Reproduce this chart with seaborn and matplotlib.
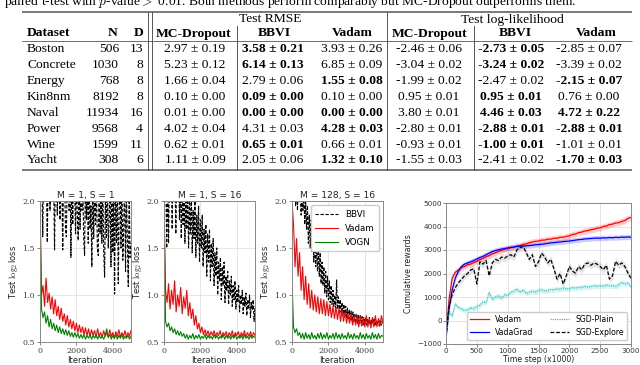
import numpy as np
import matplotlib
matplotlib.use("Agg")
import matplotlib.pyplot as plt
import seaborn as sns

plt.rcParams['mathtext.fontset'] = 'cm'

# ---------------- table data ----------------
datasets = ['Boston', 'Concrete', 'Energy', 'Kin8nm', 'Naval', 'Power', 'Wine', 'Yacht']
n_vals = [506, 1030, 768, 8192, 11934, 9568, 1599, 308]
d_vals = [13, 8, 8, 8, 16, 4, 11, 6]

rmse_mc = [2.97, 5.23, 1.66, 0.10, 0.01, 4.02, 0.62, 1.11]
rmse_mc_sd = [0.19, 0.12, 0.04, 0.00, 0.00, 0.04, 0.01, 0.09]
rmse_bbvi = [3.58, 6.14, 2.79, 0.09, 0.00, 4.31, 0.65, 2.05]
rmse_bbvi_sd = [0.21, 0.13, 0.06, 0.00, 0.00, 0.03, 0.01, 0.06]
rmse_vadam = [3.93, 6.85, 1.55, 0.10, 0.00, 4.28, 0.66, 1.32]
rmse_vadam_sd = [0.26, 0.09, 0.08, 0.00, 0.00, 0.03, 0.01, 0.10]

ll_mc = [-2.46, -3.04, -1.99, 0.95, 3.80, -2.80, -0.93, -1.55]
ll_mc_sd = [0.06, 0.02, 0.02, 0.01, 0.01, 0.01, 0.01, 0.03]
ll_bbvi = [-2.73, -3.24, -2.47, 0.95, 4.46, -2.88, -1.00, -2.41]
ll_bbvi_sd = [0.05, 0.02, 0.02, 0.01, 0.03, 0.01, 0.01, 0.02]
ll_vadam = [-2.85, -3.39, -2.15, 0.76, 4.72, -2.88, -1.01, -1.70]
ll_vadam_sd = [0.07, 0.02, 0.07, 0.00, 0.22, 0.01, 0.01, 0.03]

bold_rmse_bbvi = [1, 1, 0, 1, 1, 0, 1, 0]
bold_rmse_vadam = [0, 0, 1, 0, 1, 1, 0, 1]
bold_ll_bbvi = [1, 1, 0, 1, 1, 1, 1, 0]
bold_ll_vadam = [0, 0, 1, 0, 1, 1, 0, 1]

# ---------------- loss curves (x from 0 to 5000) ----------------
p1_bbvi = [2.5, 2.4, 2.3, 1.62, 2.4, 2.3, 2.4, 2.2, 1.56, 2.4, 2.3, 1.9, 2.4, 2.3, 2.4, 2.2, 1.48, 2.4, 2.3, 1.85,
           2.4, 2.3, 1.8, 2.4, 2.2, 1.48, 2.4, 2.3, 1.7, 1.62, 2.4, 2.2, 1.9, 2.4, 1.40, 2.3, 1.75, 2.4, 2.2, 1.65,
           2.3, 1.85, 1.58, 2.4, 1.7, 2.3, 1.9, 2.2, 1.6, 1.42, 2.3, 1.8, 2.2, 1.55, 2.3, 1.7, 1.95, 1.30, 2.3, 1.6,
           2.2, 1.75, 2.3, 1.5, 1.42, 2.3, 1.65, 2.2, 1.55, 2.3, 1.45, 1.19, 2.2, 1.6, 2.3, 1.5, 1.8, 2.2, 1.3, 2.3,
           1.45, 2.2, 1.01, 2.3, 1.55, 2.2, 1.12, 1.9, 2.3, 1.5, 2.2, 1.37, 1.7, 2.3, 1.25, 2.1, 1.6, 1.09, 2.2, 1.4,
           1.55]
p1_vadam = [2.0, 1.0, 1.1, 0.88, 1.18, 0.92, 1.02, 0.85, 0.98, 0.8, 0.95, 0.78, 0.88, 0.74, 0.86, 0.72, 0.8, 0.68,
            0.78, 0.66, 0.74, 0.64, 0.72, 0.62, 0.7, 0.6, 0.68, 0.6, 0.66, 0.58, 0.65, 0.57, 0.64, 0.56, 0.63, 0.57,
            0.62, 0.55, 0.64, 0.56, 0.6, 0.55, 0.62, 0.56, 0.6, 0.55, 0.63, 0.56, 0.6, 0.54, 0.61, 0.56, 0.63, 0.55,
            0.6, 0.56, 0.62, 0.55, 0.6, 0.56, 0.62]
p1_vogn = [2.0, 0.85, 0.76, 0.82, 0.7, 0.78, 0.66, 0.74, 0.64, 0.7, 0.62, 0.68, 0.6, 0.66, 0.59, 0.64, 0.58, 0.63,
           0.57, 0.62, 0.56, 0.6, 0.55, 0.6, 0.55, 0.59, 0.54, 0.58, 0.54, 0.58, 0.53, 0.57, 0.54, 0.58, 0.53, 0.57,
           0.54, 0.58, 0.53, 0.57, 0.54, 0.56, 0.53, 0.57, 0.64, 0.55, 0.58, 0.53, 0.57, 0.54, 0.58, 0.53, 0.57, 0.54,
           0.58, 0.53, 0.56, 0.54, 0.57, 0.53, 0.56]

p2_bbvi = [2.5, 2.3, 2.2, 1.5, 2.3, 1.55, 2.4, 2.2, 2.3, 1.7, 2.4, 2.2, 2.3, 1.65, 2.3, 2.1, 2.3, 1.8, 2.2, 1.6,
           2.3, 1.75, 2.2, 1.55, 2.1, 1.7, 2.2, 1.5, 2.0, 1.65, 2.1, 1.45, 1.9, 1.6, 2.0, 1.4, 1.85, 1.55, 1.95, 1.35,
           1.8, 1.5, 1.85, 1.3, 1.7, 1.45, 1.75, 1.2, 1.65, 1.35, 1.7, 1.15, 1.55, 1.3, 1.6, 1.1, 1.45, 1.2, 1.5, 1.0,
           1.35, 1.15, 1.4, 0.95, 1.3, 1.1, 1.35, 0.92, 1.2, 1.05, 1.25, 0.9, 1.15, 1.0, 1.2, 0.88, 1.1, 0.95, 1.15,
           0.85, 1.05, 0.92, 1.1, 0.82, 1.0, 0.9, 1.05, 0.8, 0.98, 0.88, 1.02, 0.78, 0.95, 0.85, 1.0, 0.76, 0.92, 0.84,
           0.95, 0.72, 0.88]
p2_vadam = [2.0, 1.05, 0.92, 1.12, 0.85, 1.05, 0.9, 1.15, 0.82, 1.0, 0.88, 1.08, 0.8, 0.98, 0.86, 1.05, 0.78, 0.92,
            0.75, 0.85, 0.68, 0.78, 0.64, 0.7, 0.6, 0.66, 0.58, 0.63, 0.57, 0.62, 0.56, 0.61, 0.57, 0.62, 0.56, 0.6,
            0.57, 0.62, 0.55, 0.6, 0.57, 0.61, 0.55, 0.6, 0.56, 0.62, 0.55, 0.6, 0.57, 0.61, 0.55, 0.6, 0.56, 0.62,
            0.55, 0.6, 0.56, 0.61, 0.55, 0.6, 0.57]
p2_vogn = [2.0, 0.72, 0.66, 0.7, 0.62, 0.66, 0.6, 0.64, 0.58, 0.62, 0.57, 0.61, 0.56, 0.59, 0.54, 0.58, 0.53, 0.57,
           0.54, 0.59, 0.53, 0.57, 0.54, 0.58, 0.53, 0.56, 0.54, 0.58, 0.53, 0.57, 0.54, 0.56, 0.53, 0.58, 0.54, 0.57,
           0.53, 0.56, 0.54, 0.58, 0.53, 0.57, 0.54, 0.56, 0.53, 0.57, 0.54, 0.58, 0.53, 0.56, 0.54, 0.57, 0.53, 0.58,
           0.54, 0.56, 0.53, 0.57, 0.54, 0.56, 0.55]

p3_bbvi = [2.5, 2.3, 2.1, 2.4, 1.95, 2.3, 1.9, 2.2, 2.0, 2.3, 1.85, 2.2, 1.9, 2.1, 1.75, 2.0, 1.7, 1.95, 1.55, 1.85,
           1.5, 1.8, 1.45, 1.7, 1.35, 1.65, 1.3, 1.55, 1.25, 1.5, 1.2, 1.45, 1.12, 1.35, 1.1, 1.3, 1.02, 1.25, 0.98,
           1.2, 0.95, 1.15, 0.92, 1.1, 0.9, 1.05, 0.88, 1.0, 0.86, 1.16, 0.85, 0.98, 0.82, 0.95, 0.8, 0.92, 0.78, 0.9,
           0.77, 0.88, 0.76, 0.86, 0.74, 0.84, 0.73, 0.83, 0.72, 0.82, 0.72, 0.8, 0.7, 0.8, 0.7, 0.78, 0.69, 0.78, 0.7,
           0.77, 0.68, 0.76, 0.7, 0.76, 0.68, 0.75, 0.69, 0.76, 0.68, 0.74, 0.69, 0.75, 0.68, 0.74, 0.67, 0.73, 0.68,
           0.74, 0.67, 0.73, 0.68, 0.72, 0.7]
p3_vadam = [2.0, 1.75, 1.3, 1.6, 1.2, 1.45, 1.05, 1.3, 0.95, 1.2, 0.9, 1.12, 0.86, 1.05, 0.84, 1.0, 0.82, 0.98,
            0.8, 0.96, 0.8, 0.95, 0.78, 0.93, 0.78, 0.9, 0.76, 0.88, 0.75, 0.87, 0.74, 0.86, 0.72, 0.84, 0.72, 0.82,
            0.7, 0.8, 0.7, 0.8, 0.68, 0.78, 0.68, 0.78, 0.66, 0.77, 0.67, 0.76, 0.66, 0.78, 0.66, 0.75, 0.65, 0.76,
            0.66, 0.78, 0.66, 0.75, 0.67, 0.78, 0.7]
p3_vogn = [1.15, 0.66, 0.6, 0.64, 0.57, 0.6, 0.54, 0.59, 0.53, 0.6, 0.54, 0.58, 0.53, 0.6, 0.54, 0.57, 0.53, 0.59,
           0.54, 0.6, 0.53, 0.58, 0.54, 0.6, 0.53, 0.57, 0.54, 0.59, 0.53, 0.6, 0.54, 0.58, 0.53, 0.59, 0.54, 0.57,
           0.53, 0.6, 0.54, 0.58, 0.53, 0.59, 0.54, 0.57, 0.53, 0.6, 0.54, 0.58, 0.53, 0.59, 0.54, 0.57, 0.53, 0.6,
           0.54, 0.58, 0.53, 0.59, 0.54, 0.57, 0.56]

loss_panels = [('M = 1, S = 1', p1_bbvi, p1_vadam, p1_vogn),
               ('M = 1, S = 16', p2_bbvi, p2_vadam, p2_vogn),
               ('M = 128, S = 16', p3_bbvi, p3_vadam, p3_vogn)]

# ---------------- cumulative rewards (x from 0 to 3000) ----------------
rw_vadam = [-700, 900, 1800, 2050, 2150, 2250, 2300, 2380, 2400, 2470, 2520, 2600, 2640, 2720, 2760, 2840, 2880,
            2950, 2980, 3040, 3050, 3100, 3110, 3170, 3180, 3240, 3260, 3310, 3340, 3370, 3380, 3420, 3420, 3460,
            3460, 3500, 3500, 3540, 3540, 3580, 3600, 3660, 3680, 3740, 3760, 3810, 3820, 3870, 3880, 3930, 3940,
            4000, 4020, 4080, 4100, 4150, 4160, 4220, 4250, 4350, 4380]
rw_vadagrad = [-700, 500, 1300, 1800, 2100, 2300, 2400, 2450, 2500, 2550, 2620, 2680, 2730, 2800, 2870, 2930, 2980,
               3010, 3040, 3060, 3090, 3110, 3130, 3150, 3160, 3170, 3180, 3190, 3200, 3220, 3230, 3240, 3260, 3280,
               3300, 3310, 3330, 3340, 3360, 3370, 3380, 3400, 3420, 3440, 3450, 3470, 3480, 3490, 3500, 3510, 3500,
               3520, 3510, 3530, 3520, 3540, 3530, 3550, 3540, 3560, 3540]
rw_sgd_plain = [-700, 350, 200, 700, 550, 500, 420, 450, 550, 500, 600, 650, 800, 750, 1200, 900, 1000, 1050, 950,
                1100, 1060, 1200, 1250, 1340, 1200, 1300, 1150, 1200, 1250, 1200, 1280, 1300, 1250, 1270, 1320, 1300,
                1350, 1320, 1380, 1340, 1350, 1400, 1380, 1410, 1400, 1450, 1420, 1440, 1480, 1450, 1480, 1460, 1500,
                1480, 1480, 1450, 1520, 1620, 1550, 1600, 1420]
rw_sgd_explore = [-700, 600, 1100, 1400, 1600, 1750, 1900, 2000, 2150, 2200, 1550, 2500, 2400, 2550, 1900, 2450,
                  2600, 2550, 2700, 2650, 2750, 2800, 2700, 3000, 3100, 3150, 2900, 2600, 2800, 2300, 2500, 2870,
                  2700, 2450, 2600, 2200, 1760, 2000, 1550, 1900, 2300, 2100, 2020, 2300, 2160, 2400, 2450, 2350,
                  2450, 2400, 2300, 2160, 2350, 1760, 1900, 2520, 2350, 2450, 2300, 2020, 1800]
rw_band = [130, 110, 110, 160]
rw_names = ['Vadam', 'VadaGrad', 'SGD-Plain', 'SGD-Explore']

# ---------------- figure ----------------
W, H = 640, 365
fig = plt.figure(figsize=(W / 100, H / 100), dpi=100)

# table drawn in pixel coordinates on a full-figure axes
tab = fig.add_axes([0, 0, 1, 1])
tab.set_xlim(0, W)
tab.set_ylim(H, 0)
tab.axis('off')

serif = 'Liberation Serif'
fs = 9.7
rule_col = '#555555'

def t(x, y, s, ha='center', bold=False, size=fs):
    tab.text(x, y, s, ha=ha, va='center', fontsize=size, family=serif,
             fontweight='bold' if bold else 'normal')

def hline(y, lw):
    tab.plot([22, 632], [y, y], color=rule_col, lw=lw, solid_capstyle='butt')

def vline(x, y0, y1):
    tab.plot([x, x], [y0, y1], color=rule_col, lw=0.7)

# caption line, cut off at the top edge as in the source page
tab.text(4, 2.5, 'paired t-test with $p$-value$>$ 0.01. Both methods perform comparably but MC-Dropout outperforms them.',
         ha='left', va='center', fontsize=fs, family=serif)

hline(11.5, 1.1)
hline(41, 0.6)
hline(170, 1.1)
vline(148, 11.5, 170)
vline(152, 11.5, 170)
vline(387, 11.5, 170)
vline(237, 26, 170)
vline(474, 26, 170)

t(270, 19.5, 'Test RMSE')
t(512, 19.5, 'Test log-likelihood')

hy = 33.5
t(27, hy, 'Dataset', ha='left', bold=True)
t(118, hy, 'N', ha='right', bold=True)
t(143, hy, 'D', ha='right', bold=True)
t(194, hy, 'MC-Dropout', bold=True)
t(274, hy, 'BBVI', bold=True)
t(352, hy, 'Vadam', bold=True)
t(430, hy, 'MC-Dropout', bold=True)
t(515, hy, 'BBVI', bold=True)
t(596, hy, 'Vadam', bold=True)

def cell(m, s):
    return f'{m:.2f} \u00b1 {s:.2f}'

for i, name in enumerate(datasets):
    y = 49.5 + 15.85 * i
    t(27, y, name, ha='left')
    t(119, y, str(n_vals[i]), ha='right')
    t(143, y, str(d_vals[i]), ha='right')
    t(195, y, cell(rmse_mc[i], rmse_mc_sd[i]))
    t(273, y, cell(rmse_bbvi[i], rmse_bbvi_sd[i]), bold=bold_rmse_bbvi[i])
    t(352, y, cell(rmse_vadam[i], rmse_vadam_sd[i]), bold=bold_rmse_vadam[i])
    t(429, y, cell(ll_mc[i], ll_mc_sd[i]))
    t(511, y, cell(ll_bbvi[i], ll_bbvi_sd[i]), bold=bold_ll_bbvi[i])
    t(589, y, cell(ll_vadam[i], ll_vadam_sd[i]), bold=bold_ll_vadam[i])

# ---------------- loss panels ----------------
def fx(px):
    return px / W

def fy(py):
    return 1 - py / H

lefts = [40, 164, 292]
width_px = 91
for k, (title, bb, va, vo) in enumerate(loss_panels):
    ax = fig.add_axes([fx(lefts[k]), fy(342), width_px / W, 141 / H])
    sns.lineplot(x=np.linspace(0, 5000, len(bb)), y=bb, ax=ax, color='black', lw=0.8,
                 linestyle=(0, (3, 1.5)), label='BBVI', legend=False)
    sns.lineplot(x=np.linspace(0, 5000, len(va)), y=va, ax=ax, color='red', lw=0.8,
                 label='Vadam', legend=False)
    sns.lineplot(x=np.linspace(0, 5000, len(vo)), y=vo, ax=ax, color='green', lw=0.8,
                 label='VOGN', legend=False)
    ax.set_xlim(0, 5000)
    ax.set_ylim(0.5, 2.0)
    ax.set_xticks([0, 2000, 4000])
    ax.set_yticks([0.5, 1.0, 1.5, 2.0])
    ax.set_yticklabels(['0.5', '1.0', '1.5', '2.0'])
    ax.grid(True, color='#e0e0e0', lw=0.6)
    ax.set_axisbelow(True)
    for sp in ax.spines.values():
        sp.set_color('#888888')
        sp.set_linewidth(0.7)
    ax.tick_params(labelsize=5.8, length=2, width=0.5, pad=1.5, colors='#555555', labelcolor='#444444')
    for lab in ax.get_xticklabels() + ax.get_yticklabels():
        lab.set_family('DejaVu Serif')
    ax.set_title(title, fontsize=6.6, pad=2, color='#222222')
    ax.set_xlabel('Iteration', fontsize=6, labelpad=1, color='#222222')
    ax.set_ylabel('Test $\\log_2$loss', fontsize=6, labelpad=2, color='#222222')
    if k == 2:
        ax.legend(loc='upper right', fontsize=6.2, handlelength=2.6, borderpad=0.5,
                  labelspacing=0.6, framealpha=1, edgecolor='#cccccc')

# ---------------- rewards panel ----------------
ax4 = fig.add_axes([fx(446), fy(344), 185 / W, 141 / H])
rw_series = [rw_vadam, rw_vadagrad, rw_sgd_plain, rw_sgd_explore]
rw_colors = ['red', 'blue', '#33c6c6', 'black']
rw_styles = ['-', '-', (0, (1, 0.8)), (0, (3, 1.5))]
for vals, name, col, ls, bw in zip(rw_series, rw_names, rw_colors, rw_styles, rw_band):
    xs = np.linspace(0, 3000, len(vals))
    v = np.array(vals, dtype=float)
    ax4.fill_between(xs, v - bw, v + bw, color=col if col != 'black' else 'grey', alpha=0.2, lw=0)
    sns.lineplot(x=xs, y=v, ax=ax4, color=col, lw=0.9, linestyle=ls, label=name, legend=False)
ax4.set_xlim(0, 3000)
ax4.set_ylim(-1000, 5000)
ax4.set_xticks(range(0, 3001, 500))
ax4.set_yticks(range(-1000, 5001, 1000))
ax4.grid(True, color='#e0e0e0', lw=0.6)
ax4.set_axisbelow(True)
for sp in ax4.spines.values():
    sp.set_color('#888888')
    sp.set_linewidth(0.7)
ax4.tick_params(labelsize=5.2, length=2, width=0.5, pad=1, colors='#555555', labelcolor='#333333')
ax4.set_xlabel('Time step (x1000)', fontsize=5.6, labelpad=0.5, color='#222222')
ax4.set_ylabel('Cumulative rewards', fontsize=5.6, labelpad=3, color='#222222')
ax4.legend(loc='lower right', ncol=2, fontsize=5.6, handlelength=2.4, columnspacing=2.2,
           borderpad=0.4, labelspacing=0.5, framealpha=1, edgecolor='#cccccc')

fig.savefig('out.png', dpi=100)
